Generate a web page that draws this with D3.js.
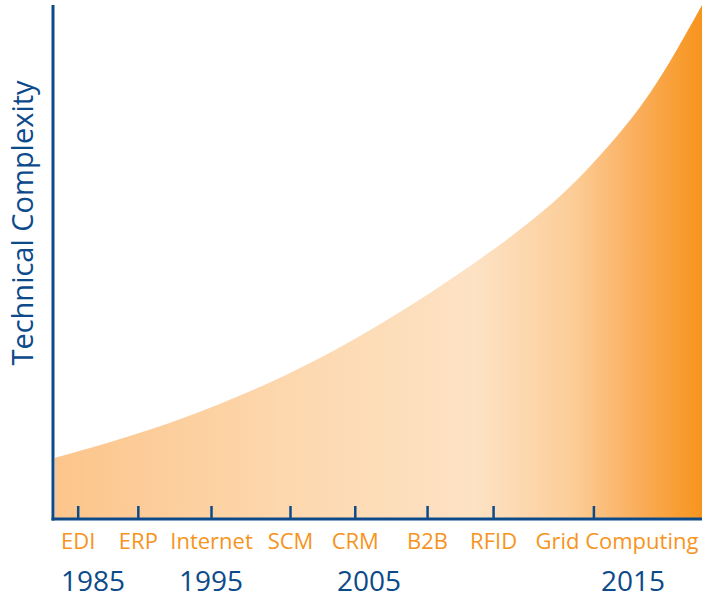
<!DOCTYPE html>
<html>
<head><meta charset="utf-8">
<title>Technical Complexity</title>
<style>
body { margin:0; background:#fff; }
svg text { font-family:"Open Sans", sans-serif; }
</style>
</head>
<body>
<svg width="702" height="598"></svg>
<script src="https://d3js.org/d3.v7.min.js"></script>
<script>
// curve: year, complexity (0-100)
var curveYears = [1981.77, 1987.03, 1992.63, 1997.47, 2001.27, 2004.87, 2007.42, 2009.70, 2010.98, 2012.23, 2013.48, 2014.77, 2015.64, 2016.51, 2017.6];
var curveValues = [11.9, 15.3, 19.5, 24.7, 30.2, 36.3, 44.2, 52.3, 57.3, 62.6, 69.1, 76.7, 82.7, 89.9, 100];

var techNames = ["EDI", "ERP", "Internet", "SCM", "CRM", "B2B", "RFID", "Grid Computing"];
var techYears = [1983.7, 1988.8, 1995, 2000, 2004.1, 2007.2, 2009.7, 2013.5];

var yearLabels = [1985, 1995, 2005, 2015];

var blue = "#0d4a8a", orange = "#f7941d";

var svg = d3.select("svg");

// the drawing is not to scale, so the year axis is piecewise
var x = d3.scaleLinear()
    .domain([1981.6, 1985, 1995, 2005, 2015, 2017.6])
    .range([53, 93, 211, 369, 633, 702]);
var y = d3.scaleLinear()
    .domain([0, 100])
    .range([519, 5]);

var grad = svg.append("defs").append("linearGradient")
    .attr("id", "fade")
    .attr("gradientUnits", "userSpaceOnUse")
    .attr("x1", x.range()[0]).attr("x2", x.range()[5])
    .attr("y1", 0).attr("y2", 0);
[[0, "#fcc58b"], [0.35, "#fdd7ad"], [0.65, "#fde2c4"], [0.8, "#fccd98"], [0.9, "#faae5c"], [1, "#f7941d"]]
  .forEach(function(s) {
    grad.append("stop").attr("offset", s[0]).attr("stop-color", s[1]);
  });

var pts = curveYears.map(function(d, i) { return [d, curveValues[i]]; });

var area = d3.area()
    .x(function(d) { return x(d[0]); })
    .y0(y(0))
    .y1(function(d) { return y(d[1]); })
    .curve(d3.curveBasis);

svg.append("path")
    .datum(pts)
    .attr("d", area)
    .attr("fill", "url(#fade)");

// technology ticks and labels
var xAxis = d3.axisBottom(x)
    .tickValues(techYears)
    .tickSizeInner(-13)
    .tickSizeOuter(0)
    .tickPadding(14)
    .tickFormat(function(d, i) { return techNames[i]; });

var gx = svg.append("g")
    .attr("transform", "translate(0," + y(0) + ")")
    .call(xAxis);
gx.select(".domain").remove();
gx.selectAll(".tick line").attr("stroke", blue).attr("stroke-width", 2.5);
gx.selectAll(".tick text")
    .attr("fill", orange)
    .attr("font-size", 22)
    .attr("font-family", "'Open Sans', sans-serif")
    // the long last label sits right of its tick
    .attr("dx", function(d, i) { return i === techNames.length - 1 ? 23 : 0; });

// axes lines
svg.append("line")
    .attr("x1", x.range()[0]).attr("x2", x.range()[0])
    .attr("y1", y(100)).attr("y2", y(0) + 1.5)
    .attr("stroke", blue).attr("stroke-width", 3);
svg.append("line")
    .attr("x1", x.range()[0] - 1.5).attr("x2", x.range()[5])
    .attr("y1", y(0)).attr("y2", y(0))
    .attr("stroke", blue).attr("stroke-width", 3);

// years
svg.selectAll(".year")
  .data(yearLabels)
  .enter().append("text")
    .attr("class", "year")
    .attr("x", function(d) { return x(d); })
    .attr("y", 591)
    .attr("text-anchor", "middle")
    .attr("fill", blue)
    .attr("font-size", 28)
    .text(function(d) { return d; });

svg.append("text")
    .attr("transform", "translate(33,223) rotate(-90)")
    .attr("text-anchor", "middle")
    .attr("fill", blue)
    .attr("font-size", 29)
    .text("Technical Complexity");
</script>
</body>
</html>
